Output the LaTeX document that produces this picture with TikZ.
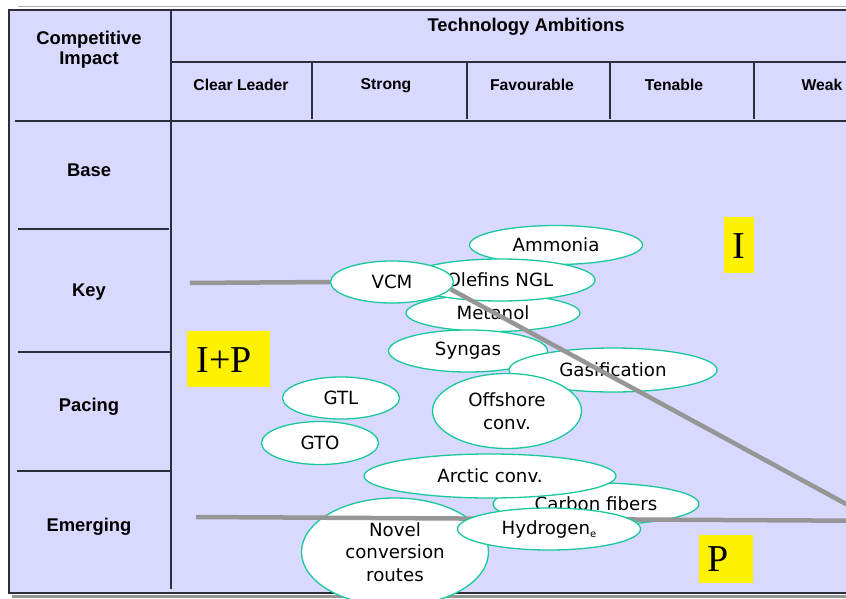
\documentclass[tikz,border=0pt]{standalone}
\usepackage{fontspec}
\usetikzlibrary{shapes.geometric}
\newfontfamily\hdrfont{Liberation Sans}
\newfontfamily\lblfont{DejaVu Sans}
\newfontfamily\tagfont{Liberation Serif}
\definecolor{panel}{RGB}{217,217,255}
\definecolor{rim}{RGB}{25,200,155}
\definecolor{band}{RGB}{150,150,150}
\definecolor{rule}{RGB}{45,45,60}
\tikzset{
  topic/.style={ellipse, draw=rim, line width=1.3pt, fill=white, inner sep=0pt,
    font=\lblfont\fontsize{18.2}{22.5}\selectfont, align=center},
  hdr/.style={font=\hdrfont\bfseries\fontsize{18.4}{19.5}\selectfont, align=center, inner sep=0pt},
  subhdr/.style={font=\hdrfont\bfseries\fontsize{15.7}{18}\selectfont, inner sep=0pt},
  tagbox/.style={fill=yellow, inner sep=0pt},
  tagtext/.style={font=\tagfont\fontsize{38}{40}\selectfont, inner sep=0pt},
  gridline/.style={draw=rule, line width=1.3pt},
  boundary/.style={draw=band, line width=4.5pt}
}
\begin{document}
\begin{tikzpicture}[x=1pt,y=-1pt]
\useasboundingbox (0,0) rectangle (846,599);
\clip (0,0) rectangle (846,599);

% table panel
\fill[panel] (9,10) rectangle (900,593);
\draw[band!80, line width=1pt] (18,7) -- (900,7);
\draw[band, line width=3pt] (12,596.5) -- (900,596.5);
\draw[gridline] (900,10) -- (9,10) -- (9,593) -- (900,593);

% grid
\draw[gridline] (171,10) -- (171,589);
\draw[gridline] (171,62) -- (900,62);
\draw[gridline] (15,121) -- (900,121);
\foreach \x in {312,467,610,754} \draw[gridline] (\x,62) -- (\x,119);
\draw[gridline] (18,229) -- (169,229);
\draw[gridline] (18,352) -- (171,352);
\draw[gridline] (17,471) -- (171,471);

% headers
\node[hdr] (impact) at (89,49.5) {Competitive\\Impact};
\node[hdr] (ambitions) at (526,27) {Technology Ambitions};
\node[subhdr] (c1) at (241,85) {Clear Leader};
\node[subhdr] (c2) at (386,86) {Strong};
\node[subhdr] (c3) at (532,85) {Favourable};
\node[subhdr] (c4) at (674,85) {Tenable};
\node[subhdr] (c5) at (822,85) {Weak};
\node[hdr] (r1) at (89,170) {Base};
\node[hdr] (r2) at (89,292) {Key};
\node[hdr] (r3) at (89,407) {Pacing};
\node[hdr] (r4) at (89,527) {Emerging};

% yellow tags
\node[tagbox, minimum width=30pt, minimum height=56pt] (ibox) at (739,245) {};
\node[tagtext] (itext) at (739,246) {I};
\node[tagbox, minimum width=83pt, minimum height=56pt] (ipbox) at (228.5,359) {};
\node[tagtext] (iptext) at (224,360) {I+P};
\node[tagbox, minimum width=54pt, minimum height=48pt] (pbox) at (726,559) {};
\node[tagtext] (ptext) at (718,559) {P};

% technology ellipses
\node[topic, minimum width=173pt, minimum height=39pt] (ammonia) at (556,245) {Ammonia};
\node[topic, minimum width=174pt, minimum height=37pt] (metanol) at (493,313) {Metanol};
\node[topic, minimum width=190pt, minimum height=42pt] (olefins) at (500,280) {Olefins NGL};
\node[topic, minimum width=159pt, minimum height=42pt] (syngas) at (468,351) {Syngas};
\node[topic, minimum width=208pt, minimum height=44pt] (gasif) at (613,370) {Gasification};
\node[topic, minimum width=149pt, minimum height=75pt] (offshore) at (507,411) {Offshore\\conv.};
\node[topic, minimum width=117pt, minimum height=42pt] (gtl) at (341,398) {GTL};
\node[topic, minimum width=117pt, minimum height=43pt] (gto) at (320,443) {GTO};
\node[topic, minimum width=206pt, minimum height=42pt] (carbon) at (596,504) {Carbon fibers};
\node[topic, minimum width=252pt, minimum height=44pt] (arctic) at (490,476) {Arctic conv.};
\node[topic, minimum width=187pt, minimum height=108pt] (novel) at (395,552) {Novel\\conversion\\routes};
\node[topic, minimum width=123pt, minimum height=42pt] (vcm) at (392,282) {VCM};

% I / I+P / P boundaries
\coordinate (ipStart) at (190,283);
\coordinate (diagEnd) at (900,533.3);
\coordinate (lowStart) at (196,517);
\coordinate (lowEnd) at (900,521);
\draw[boundary] (ipStart) -- (vcm.west);
\draw[boundary] (vcm.-7) -- (diagEnd);
\draw[boundary] (lowStart) -- (lowEnd);

\node[topic, minimum width=183pt, minimum height=42pt] (hydrogen) at (549,529)
  {Hydrogen\raisebox{-3pt}{\fontsize{10}{10}\selectfont e}};
\end{tikzpicture}
\end{document}
